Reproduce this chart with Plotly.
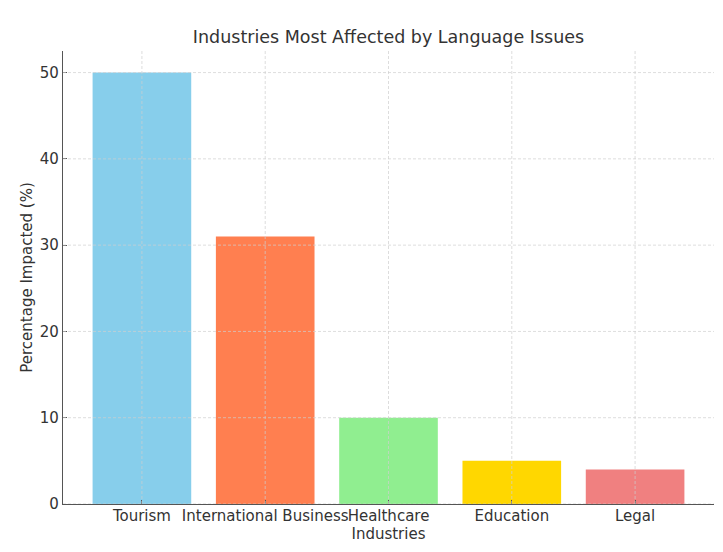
import plotly.graph_objects as go

industries = ["Tourism", "International Business", "Healthcare", "Education", "Legal"]
percentages = [50, 31, 10, 5, 4]
colors = ["#87CEEB", "#FF7F50", "#90EE90", "#FFD700", "#F08080"]
y_ticks = [0, 10, 20, 30, 40, 50]

fig = go.Figure()
fig.add_trace(go.Bar(
    x=list(range(len(industries))), y=percentages,
    marker=dict(color=colors, line=dict(width=0)),
    width=0.8,
))

ymax = max(percentages) * 1.05
xmin, xmax = -0.4 - 0.05 * 4.8, len(industries) - 1 + 0.4 + 0.05 * 4.8

grid_style = dict(color="#cfcfcf", width=0.7, dash="3px,2px")
for yv in y_ticks:
    fig.add_shape(type="line", xref="paper", x0=0, x1=1, yref="y", y0=yv, y1=yv,
                  line=grid_style, layer="above")
for i in range(len(industries)):
    fig.add_shape(type="line", xref="x", x0=i, x1=i, yref="paper", y0=0, y1=1,
                  line=grid_style, layer="above")

fig.update_layout(
    width=723, height=552,
    margin=dict(l=63, r=9, t=51, b=48),
    paper_bgcolor="white", plot_bgcolor="white",
    font=dict(family="DejaVu Sans", size=15, color="#333333"),
    title=dict(text="Industries Most Affected by Language Issues", x=(63 + 714) / 2 / 723,
               xanchor="center", y=1 - 37 / 552, yanchor="middle",
               font=dict(size=17.5, color="#333333")),
    showlegend=False,
    xaxis=dict(
        range=[xmin, xmax], tickmode="array", tickvals=list(range(len(industries))),
        ticktext=industries, showgrid=False, zeroline=False,
        showline=True, linecolor="#555555", linewidth=1.3,
        ticks="inside", ticklen=4, tickcolor="#555555",
        tickangle=0, automargin=False,
        ticklabelstandoff=-2,
        title=dict(text="Industries", standoff=2, font=dict(size=15)),
        tickfont=dict(size=15),
    ),
    yaxis=dict(
        range=[0, ymax], tickmode="array", tickvals=y_ticks,
        showgrid=False, zeroline=False,
        showline=True, linecolor="#555555", linewidth=1.3,
        ticks="inside", ticklen=4, tickcolor="#555555",
        automargin=False,
        title=dict(text="Percentage Impacted (%)", standoff=3, font=dict(size=15)),
        tickfont=dict(size=15),
    ),
)

fig.write_html("out.html")
